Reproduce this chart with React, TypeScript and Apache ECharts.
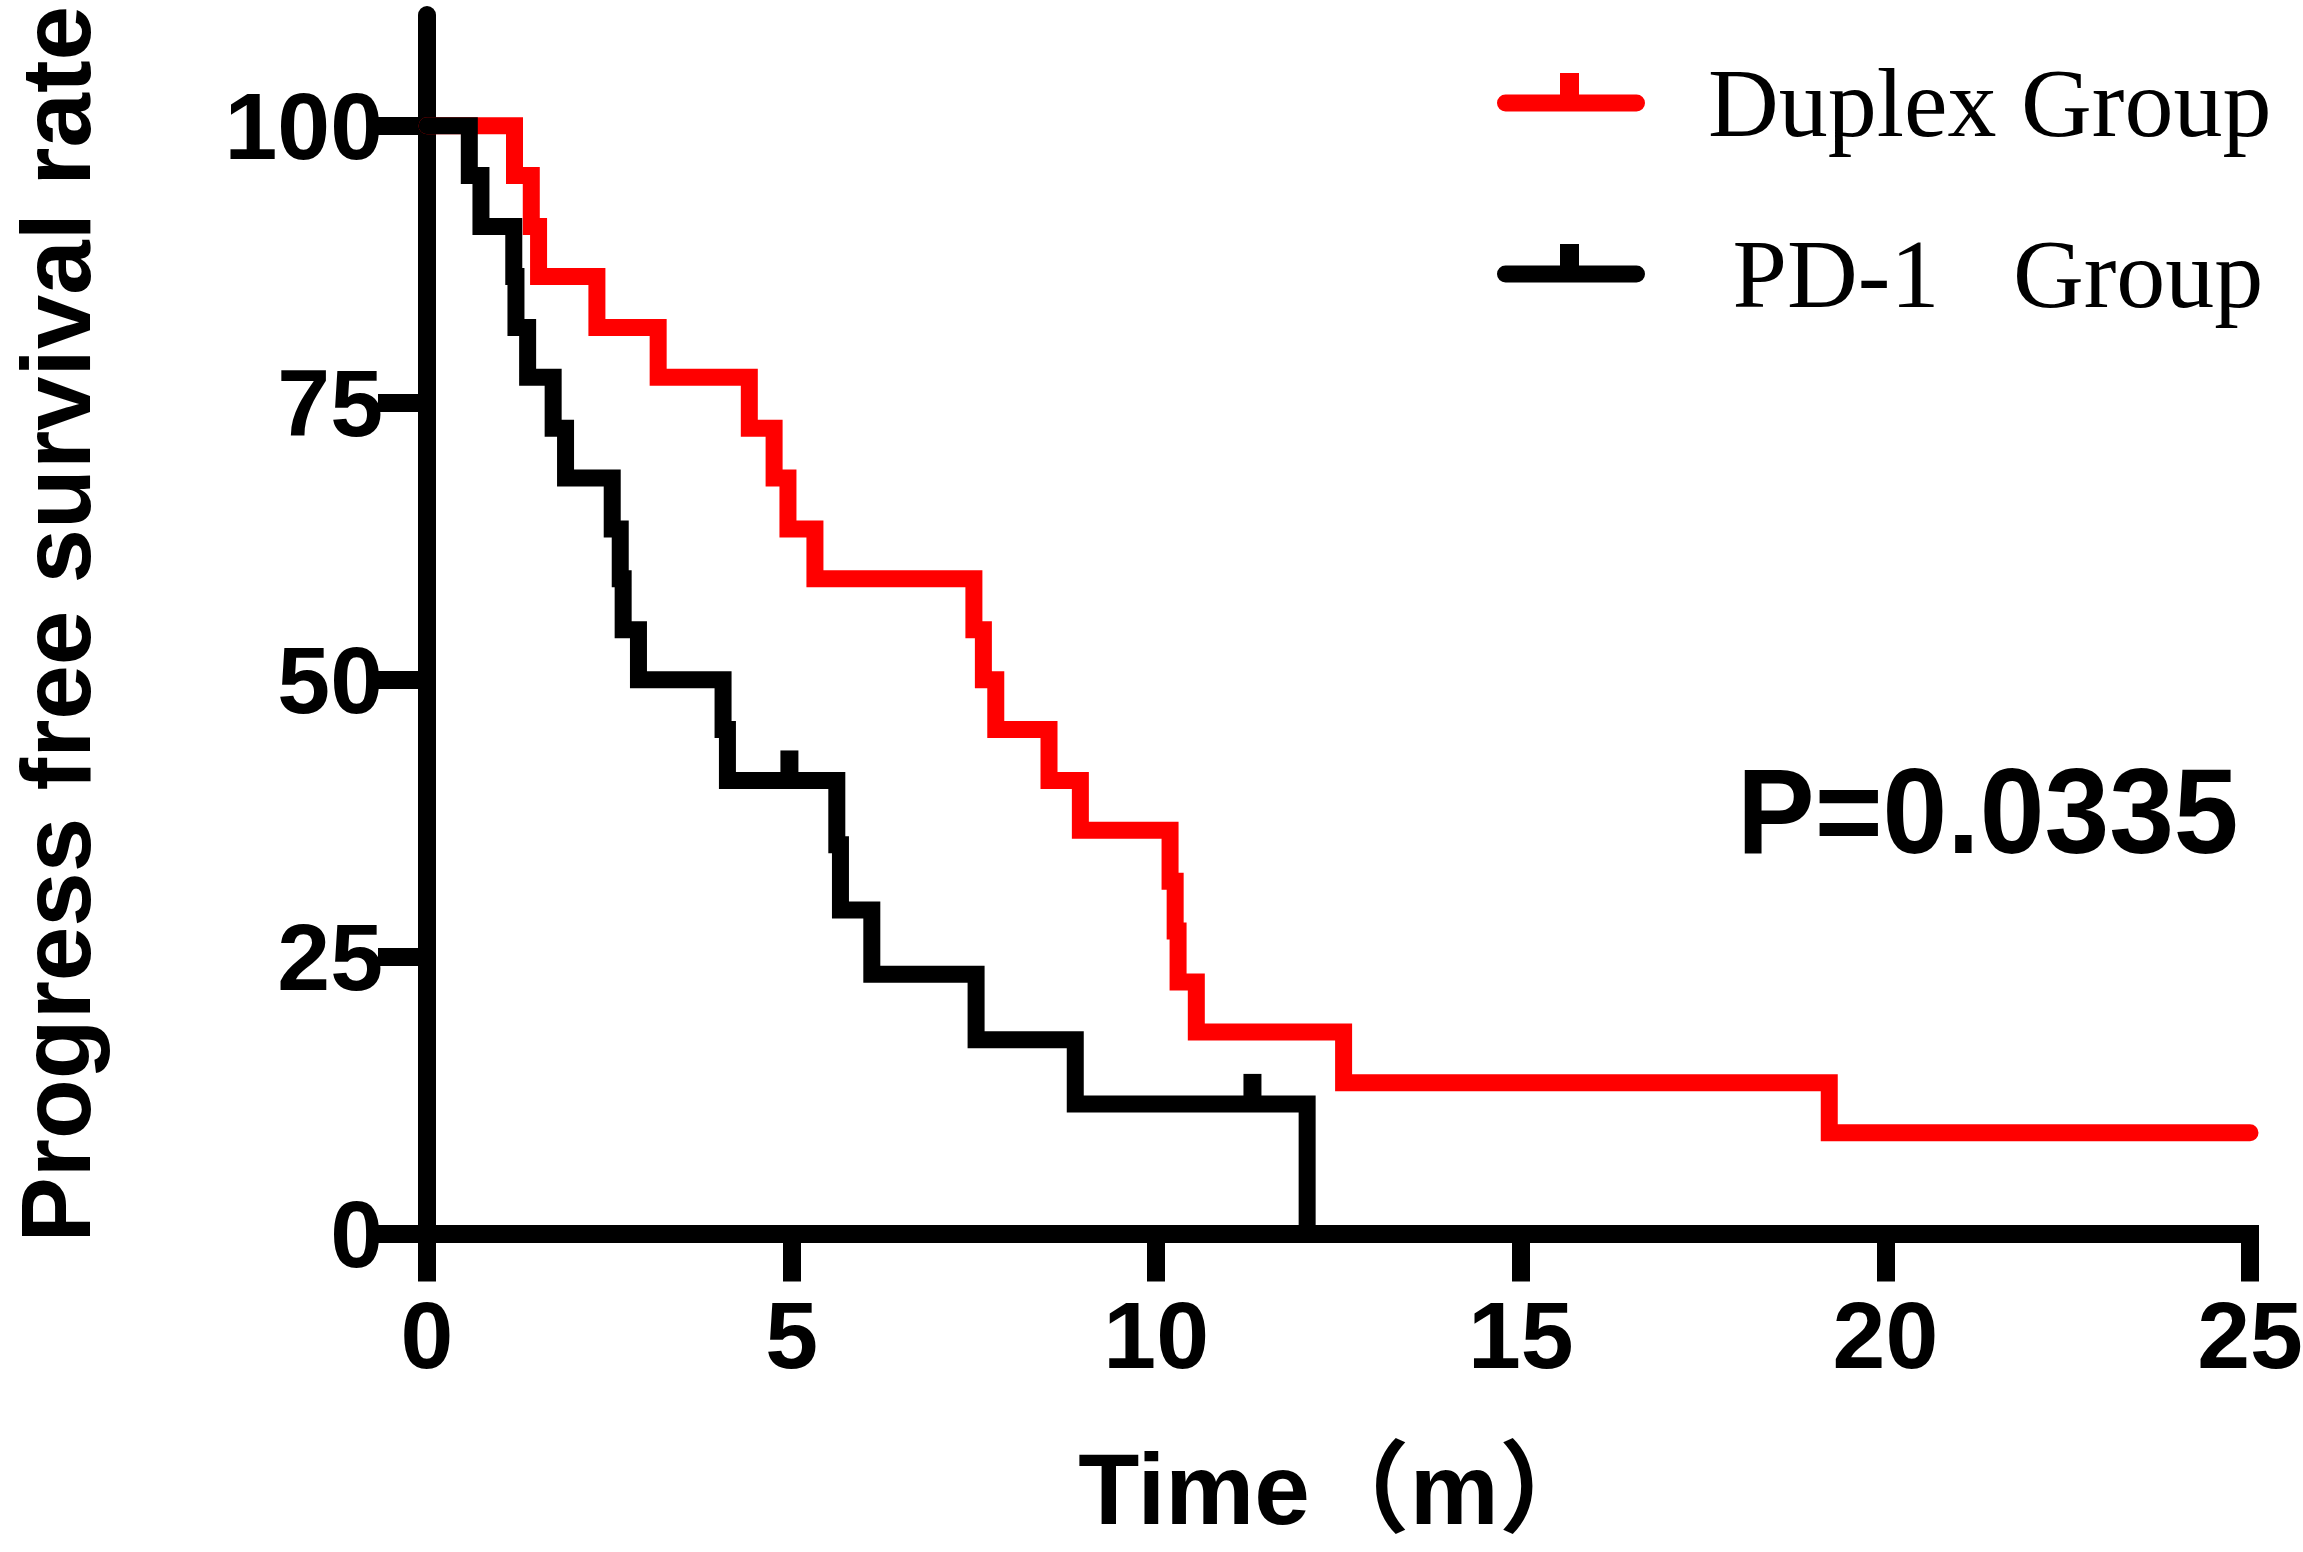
import { useEffect, useRef } from 'react';
import * as echarts from 'echarts';

// ---- tick values ----
const xTicks = [0, 5, 10, 15, 20, 25];
const yTicks = [0, 25, 50, 75, 100];

// ---- Duplex group (red) : time of each step, survival after the step ----
const duplexName = 'Duplex Group';
const duplexTimes = [0, 1.2, 1.43, 1.53, 2.33, 3.17, 4.42, 4.76, 4.95, 5.32, 7.5, 7.63, 7.8, 8.53, 8.96, 10.19, 10.26, 10.3, 10.55, 12.57, 19.23, 25];
const duplexSurvival = [100, 95.5, 90.9, 86.4, 81.8, 77.3, 72.7, 68.2, 63.6, 59.1, 54.5, 50, 45.5, 40.9, 36.4, 31.8, 27.3, 22.7, 18.2, 13.6, 9.1, 9.1];

// ---- PD-1 group (black) ----
const pd1Name = 'PD-1   Group';
const pd1Times = [0, 0.58, 0.74, 1.19, 1.22, 1.38, 1.73, 1.9, 2.54, 2.65, 2.69, 2.9, 4.06, 4.12, 5.62, 5.67, 6.1, 7.53, 8.89, 12.07];
const pd1Survival = [100, 95.5, 90.9, 86.4, 81.8, 77.3, 72.7, 68.2, 63.6, 59.1, 54.5, 50, 45.5, 40.9, 35.1, 29.2, 23.4, 17.5, 11.7, 0];
const pd1CensorTimes = [4.97, 11.32];
const pd1CensorSurvival = [40.9, 11.7];

// ---- texts ----
const pValueText = 'P=0.0335';
const xAxisTitle = 'Time（m）';
const yAxisTitle = 'Progress free survival rate';

const zip = (xs: number[], ys: number[]) => xs.map((x, i) => [x, ys[i]]);

const SANS = "'Liberation Sans', Arial, sans-serif";
const SANS_CJK = "'Liberation Sans', Arial, 'Noto Sans CJK SC', sans-serif";
const SERIF = "'Liberation Serif', 'Times New Roman', serif";

// legend icon: thick bar with round ends and a censor tick; padded so the bar is centred
const legendIcon =
  'path://M8.5,21.5 L139.5,21.5 A8.5,8.5 0 0 1 139.5,38.5 L8.5,38.5 A8.5,8.5 0 0 1 8.5,21.5 Z ' +
  'M63,0 L82,0 L82,22 L63,22 Z M0,59.99 L0.01,60 L0,60 Z';

export default function App() {
  const ref = useRef<HTMLDivElement>(null);

  useEffect(() => {
    document.body.style.margin = '0';
    document.body.style.overflow = 'hidden';
    if (!ref.current) return;
    const chart = echarts.init(ref.current, undefined, { renderer: 'svg' });

    const option: any = {
      animation: false,
      backgroundColor: '#ffffff',
      grid: {
        left: 427,
        right: 53,
        top: 15,
        bottom: 318.5,
        containLabel: false,
        outerBoundsMode: 'none',
      },
      legend: {
        orient: 'vertical',
        left: 1497,
        top: 54,
        padding: 0,
        itemGap: 73,
        itemWidth: 148,
        itemHeight: 60,
        selectedMode: false,
        itemStyle: { borderWidth: 0 },
        textStyle: {
          fontFamily: SERIF,
          fontSize: 98,
          color: '#000000',
          padding: [0, 0, 0, 58],
        },
        formatter: (n: string) => (n === pd1Name ? ' ' + n : n),
        data: [
          { name: duplexName, icon: legendIcon },
          { name: pd1Name, icon: legendIcon },
        ],
      },
      xAxis: {
        type: 'value',
        min: 0,
        max: 25,
        interval: 5,
        name: xAxisTitle,
        nameLocation: 'middle',
        nameGap: 205,
        nameTextStyle: {
          fontFamily: SANS_CJK,
          fontWeight: 'bold',
          fontSize: 100,
          color: '#000000',
        },
        axisLine: {
          show: true,
          onZero: false,
          lineStyle: { color: '#000000', width: 18, cap: 'square' },
        },
        axisTick: {
          show: true,
          length: 48,
          lineStyle: { color: '#000000', width: 18 },
        },
        axisLabel: {
          margin: 54,
          fontFamily: SANS,
          fontWeight: 'bold',
          fontSize: 95,
          color: '#000000',
          customValues: xTicks,
        },
        splitLine: { show: false },
      },
      yAxis: {
        type: 'value',
        min: 0,
        max: 110,
        name: yAxisTitle,
        nameLocation: 'middle',
        nameGap: 322,
        nameTextStyle: {
          fontFamily: SANS,
          fontWeight: 'bold',
          fontSize: 98,
          color: '#000000',
        },
        axisLine: {
          show: true,
          onZero: false,
          lineStyle: { color: '#000000', width: 18 },
        },
        axisTick: {
          show: true,
          length: 49,
          lineStyle: { color: '#000000', width: 18 },
          customValues: yTicks,
        },
        axisLabel: {
          margin: 44,
          fontFamily: SANS,
          fontWeight: 'bold',
          fontSize: 95,
          color: '#000000',
          customValues: yTicks,
        },
        splitLine: { show: false },
      },
      series: [
        {
          name: duplexName,
          type: 'line',
          step: 'end',
          data: zip(duplexTimes, duplexSurvival),
          symbol: 'none',
          clip: false,
          color: '#ff0000',
          lineStyle: { color: '#ff0000', width: 17, cap: 'round', join: 'miter' },
          z: 2,
        },
        {
          name: pd1Name,
          type: 'line',
          step: 'end',
          data: zip(pd1Times, pd1Survival),
          symbol: 'none',
          clip: false,
          color: '#000000',
          lineStyle: { color: '#000000', width: 17, cap: 'round', join: 'miter' },
          z: 3,
        },
        {
          name: 'PD-1 censored',
          type: 'scatter',
          data: zip(pd1CensorTimes, pd1CensorSurvival),
          symbol: 'rect',
          symbolSize: [18, 30],
          symbolOffset: [0, -15],
          itemStyle: { color: '#000000', opacity: 1, borderWidth: 0 },
          clip: false,
          z: 4,
        },
      ],
      graphic: [
        {
          type: 'text',
          x: 1737,
          y: 811,
          scaleX: 0.97,
          scaleY: 1,
          style: {
            text: pValueText,
            fontFamily: SANS,
            fontWeight: 'bold',
            fontSize: 120,
            fill: '#000000',
            textAlign: 'left',
            textVerticalAlign: 'middle',
          },
        },
      ],
    };

    chart.setOption(option);
    return () => chart.dispose();
  }, []);

  return <div ref={ref} style={{ width: 2303, height: 1552 }} />;
}
